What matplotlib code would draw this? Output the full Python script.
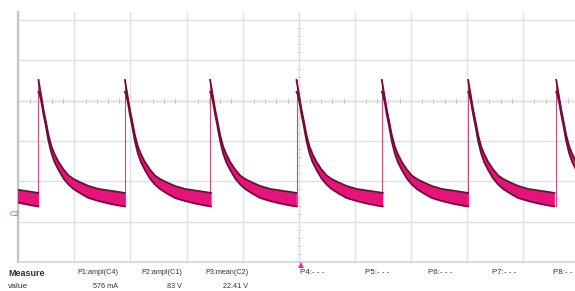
import numpy as np
import matplotlib
matplotlib.use('Agg')
import matplotlib.pyplot as plt

# scope trace, everything in divisions (x: time div, y: vertical div)
# rising edge positions of each pulse
edge_times = [-1.18, 0.36, 1.90, 3.42, 4.96, 6.48, 8.02, 9.59]

# one period of the trace, time after the edge, upper / lower edge of the band
trace_t = [0.0, 0.018, 0.053, 0.089, 0.125, 0.178, 0.232, 0.285, 0.357,
           0.446, 0.535, 0.624, 0.749, 0.891, 1.07, 1.248, 1.426, 1.537]
trace_hi = [0.516, 0.367, 0.082, -0.216, -0.464, -0.848, -1.133, -1.319, -1.518,
            -1.704, -1.853, -1.939, -2.026, -2.113, -2.188, -2.225, -2.262, -2.287]
trace_lo = [0.218, 0.169, -0.042, -0.340, -0.588, -0.997, -1.307, -1.518, -1.716,
            -1.927, -2.076, -2.188, -2.299, -2.411, -2.486, -2.547, -2.597, -2.621]

# measurement table under the graticule
meas_names = ['P1:ampl(C4)', 'P2:ampl(C1)', 'P3:mean(C2)']
meas_values = ['576 mA', '83 V', '22.41 V']
empty_names = ['P4:- - -', 'P5:- - -', 'P6:- - -', 'P7:- - -', 'P8:- -']

W, H = 575, 291
fig = plt.figure(figsize=(W / 100, H / 100), dpi=100)
x0, xdiv = 18.3, 56.09
ytop, ybot = 12, 262
ax = fig.add_axes([x0 / W, 1 - ybot / H, (W - x0) / W, (ybot - ytop) / H])
ax.set_xlim(0, (W - x0) / xdiv)
ax.set_ylim(-4, 2.202)

# graticule
ax.set_xticks(np.arange(0, 10))
ax.set_yticks(np.arange(-4, 3))
ax.grid(True, color='#e0e0e0', lw=1.0)
ax.tick_params(length=0, labelbottom=False, labelleft=False)
for s in ['top', 'right']:
    ax.spines[s].set_visible(False)
ax.spines['left'].set_color('#c4c4c4')
ax.spines['left'].set_linewidth(1.6)
ax.spines['bottom'].set_color('#d4d4d4')
ax.spines['bottom'].set_linewidth(1.2)

# center cross with small tick marks
ax.axhline(0, color='#c0c0c0', lw=0.9, zorder=1)
ax.axvline(5, color='#c8c8c8', lw=0.9, ls=(0, (4, 3)), zorder=1)
xt = np.arange(0, 10, 0.2)
ax.plot(xt, np.zeros_like(xt), ls='none', marker='|', ms=3, mew=0.7, color='#aaaaaa', zorder=1)
yt = np.arange(-4, 2.2, 0.2)
ax.plot(np.full_like(yt, 5), yt, ls='none', marker='_', ms=2.5, mew=0.6, color='#c0c0c0', zorder=1)

# the trace
t = np.array(trace_t)
for e in edge_times:
    ax.fill_between(e + t, trace_lo, trace_hi, color='#e3157a', lw=0, zorder=3)
    ax.plot(e + t, trace_hi, color='#700d35', lw=1.3, zorder=4)
    ax.plot(e + t, trace_lo, color='#700d35', lw=1.3, zorder=4)
    ax.plot([e, e], [trace_lo[-1], trace_hi[0]], color='#c2507f', lw=0.8, zorder=2)

# channel marker and trigger marker
fig.text(14 / W, 1 - 215 / H, 'C2', color='#e0409a', fontsize=5.5,
         ha='center', va='center', family='Liberation Sans')
fig.text(301 / W, 1 - 265 / H, '\u25b2', color='#ff1f8a', fontsize=5.5,
         ha='center', va='center', family='DejaVu Sans')

# measurement table
row1, row2 = 1 - 273 / H, 1 - 287 / H
fig.text(8 / W, row1, 'Measure', fontsize=6.5, weight='bold', color='#333333',
         va='center', family='Liberation Sans')
fig.text(8 / W, row2, 'value', fontsize=6, color='#333333', va='center', family='Liberation Sans')
for i, (n, v) in enumerate(zip(meas_names, meas_values)):
    xr = [118, 182, 248][i] / W
    fig.text(xr, row1, n, fontsize=5.2, color='#333333', ha='right', va='center', family='Liberation Sans')
    fig.text(xr, row2, v, fontsize=5.2, color='#333333', ha='right', va='center', family='Liberation Sans')
for i, n in enumerate(empty_names):
    xl = [300, 365, 428, 492, 553][i] / W
    fig.text(xl, row1, n, fontsize=5.8, color='#333333', ha='left', va='center', family='Liberation Sans')

fig.savefig('out.png', dpi=100)
